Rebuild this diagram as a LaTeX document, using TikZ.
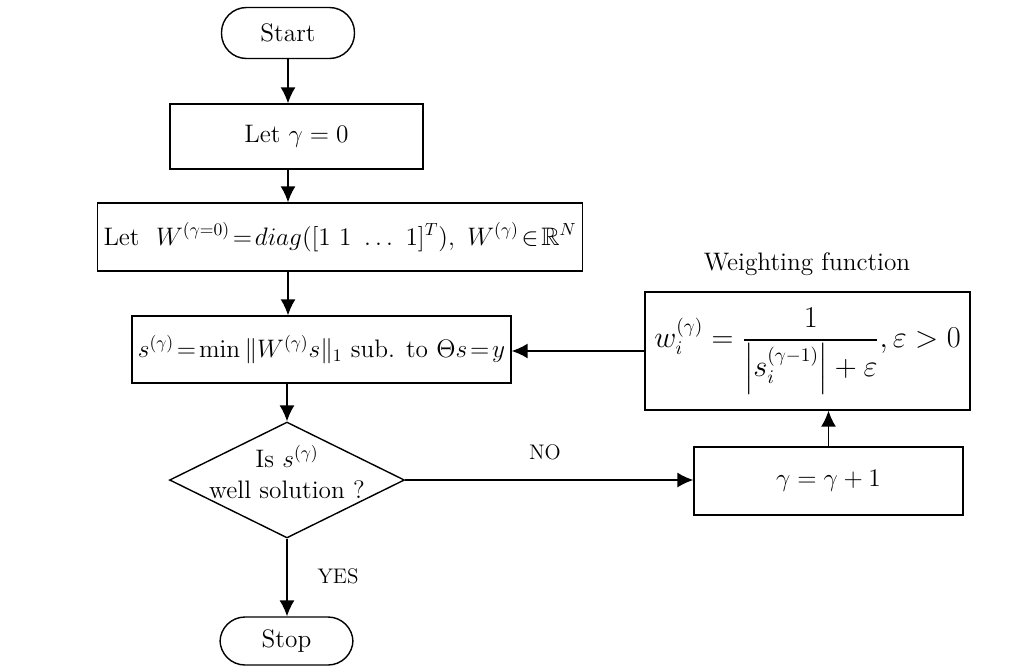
\documentclass[tikz,border=0pt]{standalone}
\usepackage{tikz}
\usetikzlibrary{arrows, arrows.meta}
\usetikzlibrary{positioning}
\usetikzlibrary{shapes.geometric}
\usepackage{amsmath}
\usepackage{amssymb}
\usepackage{xcolor}

\tikzset{
  box/.style={draw, thick, rectangle, align=center, font=\Large},
  term/.style={draw, thick, rectangle, rounded corners=0.5cm, font=\Large},
  decision/.style={draw, thick, diamond, aspect=2, inner sep=0pt},
  arr/.style={-{Latex[length=3.2mm,width=3mm]}, thick}
}

\begin{document}
\begin{tikzpicture}[x=0.02cm, y=-0.02cm]
\useasboundingbox (0,0) rectangle (1011,667);

%flow
\node [term, minimum width=2.66cm, minimum height=1.02cm] (start) at (288,33) {Start};
\node [box, minimum width=5.06cm, minimum height=1.3cm] (init) at (296.5,136.5) {Let $\gamma = 0$};
\node [box, minimum width=8.88cm, minimum height=1.36cm] (wzero) at (340,237) {Let \ $W^{(\gamma=0)}\!=\!diag([1\ 1\ \ldots\ 1]^T),\ W^{(\gamma)}\!\in\!\mathbb{R}^N$};
\node [box, minimum width=7.26cm, minimum height=1.34cm] (solve) at (321.5,349.5) {$s^{(\gamma)}\!=\!\min\| W^{(\gamma)}s\|_1$ sub. to $\Theta s\!=\!y$};
\node [decision, minimum width=4.7cm, minimum height=2.32cm] (check) at (287,480) {};
\node [align=center, font=\Large] (checktxt) at (287,472) {Is $s^{(\gamma)}$\\ well solution ?};
\node [term, minimum width=2.66cm, minimum height=0.96cm] (stop) at (286.5,641) {Stop};

%update branch
\node [box, minimum width=5.38cm, minimum height=1.36cm] (incr) at (828.5,481) {$\gamma = \gamma + 1$};
\node [box, minimum width=6.5cm, minimum height=2.36cm, font=\fontsize{16}{19}\selectfont] (weight) at (807.5,351) {$w_i^{(\gamma)} = \dfrac{1}{\left|s_i^{(\gamma-1)}\right| + \varepsilon}, \varepsilon > 0$};

%arrows
\draw [arr] (start.south) -- (start.south |- init.north);
\draw [arr] (start.south |- init.south) -- (start.south |- wzero.north);
\draw [arr] (start.south |- wzero.south) -- (start.south |- solve.north);
\draw [arr] (check.north |- solve.south) -- (check.north);
\draw [arr] (check.south) -- (check.south |- stop.north);
\draw [arr] (check.east) -- (check.east -| incr.west);
\draw [arr] (incr.north) -- (incr.north |- weight.south);
\draw [arr] (weight.west) -- (weight.west -| solve.east);

%labels
\node [font=\large] (nolbl) at (545,452) {NO};
\node [font=\large] (yeslbl) at (338,576) {YES};
\node [font=\Large] (wlbl) at (807,264) {Weighting function};

\end{tikzpicture}
\end{document}
